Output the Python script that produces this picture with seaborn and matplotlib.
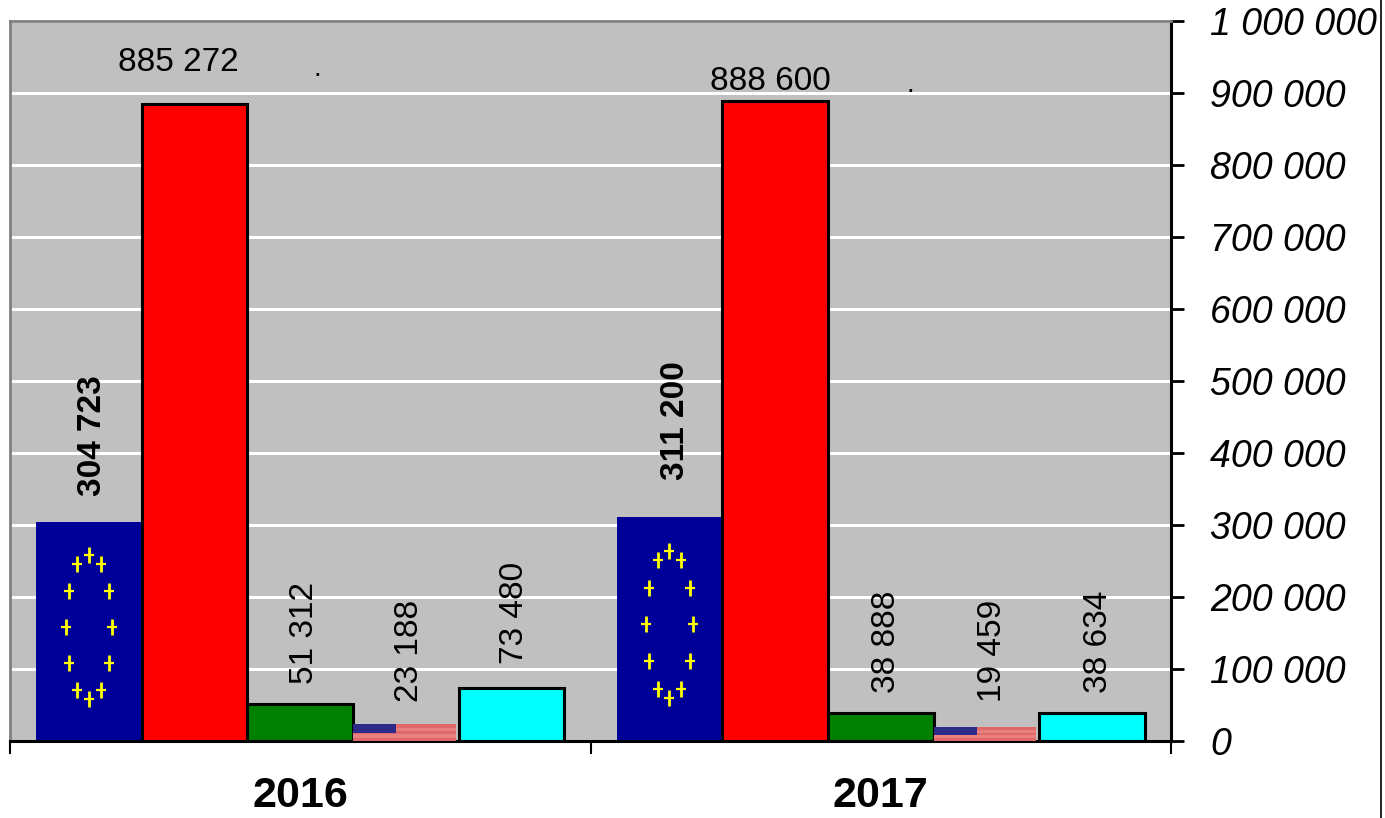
import numpy as np
import pandas as pd
import matplotlib
matplotlib.use('Agg')
import matplotlib.pyplot as plt
from matplotlib.lines import Line2D
from matplotlib.patches import Rectangle
from matplotlib.ticker import FuncFormatter
import seaborn as sns

# values
years = ['2016', '2017']
series = ['EU', 'red', 'green', 'USA', 'cyan']
eu = [304723, 311200]
red = [885272, 888600]
green = [51312, 38888]
usa = [23188, 19459]
cyan = [73480, 38634]
y_ticks = [0, 100000, 200000, 300000, 400000, 500000, 600000, 700000, 800000, 900000, 1000000]

colors = ['#000099', '#FF0000', '#008000', '#E88080', '#00FFFF']

df = pd.DataFrame({'year': years * 5,
                   'series': np.repeat(series, 2),
                   'value': eu + red + green + usa + cyan})

sns.set_theme(style='white')
plt.rcParams['font.family'] = ['Liberation Sans', 'DejaVu Sans']
plt.rcParams['text.color'] = 'black'

fig = plt.figure(figsize=(13.85, 8.18), dpi=100)
ax = fig.add_axes([10 / 1385, 1 - 741 / 818, 1161 / 1385, 720 / 818])

sns.barplot(data=df, x='year', y='value', hue='series', order=years, hue_order=series,
            palette=colors, width=0.91, gap=0, saturation=1, legend=False, ax=ax)

ax.set_xlim(-0.5, 1.5)
ax.set_ylim(0, 1000000)
ax.set_facecolor('#C0C0C0')
ax.set_xlabel('')
ax.set_ylabel('')

# white gridlines behind the bars
ax.set_axisbelow(True)
ax.yaxis.grid(True, color='white', linewidth=2.2)
ax.xaxis.grid(False)

# value axis on the right
ax.yaxis.tick_right()
ax.set_yticks(y_ticks)
ax.yaxis.set_major_formatter(FuncFormatter(lambda v, p: f'{int(v):,}'.replace(',', ' ')))
ax.tick_params(axis='y', which='major', right=True, length=9, width=2, color='black',
               labelcolor='black', pad=19, labelsize=27)
for t in ax.get_yticklabels():
    t.set_fontstyle('italic')

# separators between years, labels in the middle
ax.set_xticks([-0.5, 0.5, 1.5])
ax.set_xticklabels(['', '', ''])
ax.set_xticks([0, 1], minor=True)
ax.set_xticklabels(years, minor=True, fontsize=31, fontweight='bold')
ax.tick_params(axis='x', which='major', bottom=True, length=9, width=1.5, color='black')
ax.tick_params(axis='x', which='minor', bottom=False, length=0, pad=25, labelcolor='black')

for side, col, lw in [('left', '#808080', 2), ('top', '#808080', 2),
                      ('right', 'black', 2.2), ('bottom', 'black', 2.2)]:
    ax.spines[side].set_visible(True)
    ax.spines[side].set_color(col)
    ax.spines[side].set_linewidth(lw)

# outlines
for cont, name in zip(ax.containers, series):
    for bar in cont:
        if name in ('EU', 'USA'):
            bar.set_edgecolor('none')
            bar.set_linewidth(0)
        else:
            bar.set_edgecolor('black')
            bar.set_linewidth(2.2)

# flag pictures inside the EU and USA bars
bar_w = ax.containers[0][0].get_width()
for bar in ax.containers[0]:
    x0, w, h = bar.get_x(), bar.get_width(), bar.get_height()
    ang = np.deg2rad(np.arange(0, 360, 30))
    star_x = x0 + w / 2 + 0.22 * w * np.cos(ang)
    star_y = h * 0.52 + 0.33 * h * np.sin(ang)
    ax.plot(star_x, star_y, ls='none', marker='|', ms=12, mew=2, color='#FFFF00', zorder=4)
    ax.plot(star_x, star_y, ls='none', marker='_', ms=6.5, mew=1.6, color='#FFFF00', zorder=4)

for bar in ax.containers[3]:
    x0, w, h = bar.get_x(), bar.get_width(), bar.get_height()
    bar.set_width(w * 0.97)
    for k in range(0, 3):
        ax.add_patch(Rectangle((x0, h * k * 0.4), w * 0.97, h * 0.2, fc='#DF6868', ec='none', zorder=3))
    ax.add_patch(Rectangle((x0, h * 0.45), w * 0.41, h * 0.55, fc='#2C2C88', ec='none', zorder=4))

# value labels, offsets in pixels from the top of each bar
labels = [[('304 723', 4, 26, 90, 'bold'), ('311 200', 6, 37, 90, 'bold')],
          [('885 272', -16, 41, 0, 'normal'), ('888 600', -5, 20, 0, 'normal')],
          [('51 312', 4, 20, 90, 'normal'), ('38 888', 6, 20, 90, 'normal')],
          [('23 188', 4, 22, 90, 'normal'), ('19 459', 6, 25, 90, 'normal')],
          [('73 480', 3, 24, 90, 'normal'), ('38 634', 6, 20, 90, 'normal')]]
for cont, row in zip(ax.containers, labels):
    for bar, (txt, dx, dy, rot, weight) in zip(cont, row):
        cx = bar.get_x() + bar_w / 2
        va = 'bottom' if rot == 90 else 'center'
        ax.annotate(txt, (cx, bar.get_height()), xycoords='data',
                    xytext=(dx * 0.72, dy * 0.72), textcoords='offset points',
                    ha='center', va=va, rotation=rot, fontsize=24, fontweight=weight,
                    color='black', zorder=6)

# stray dots above the red bars
for bar, dx, dy in zip(ax.containers[1], [123, 135], [28, 9]):
    ax.annotate('.', (bar.get_x() + bar_w / 2, bar.get_height()), xycoords='data',
                xytext=(dx * 0.72, dy * 0.72), textcoords='offset points',
                ha='center', va='baseline', fontsize=20, color='black')

# thin frame line at the right edge of the picture
fig.add_artist(Line2D([1380.5 / 1385] * 2, [0, 1], color='black', linewidth=1.2))

fig.savefig('out.png', dpi=100, facecolor='white')
